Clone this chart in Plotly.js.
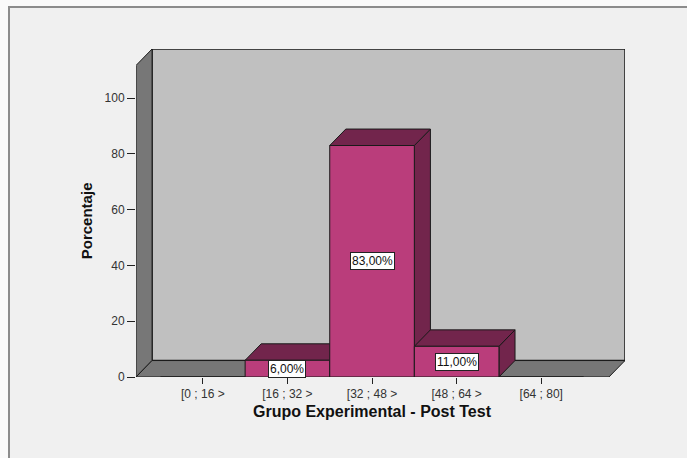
<!DOCTYPE html>
<html><head><meta charset="utf-8">
<script src="https://cdn.plot.ly/plotly-3.0.1.min.js"></script>
<style>
html,body{margin:0;padding:0;background:#fafafa;overflow:hidden;}
#frame{position:absolute;left:8px;top:6px;width:679px;height:452px;background:#f0f0f0;border-left:2px solid #8c8c8c;border-top:2px solid #8c8c8c;box-sizing:border-box;}
#chart{position:absolute;left:0;top:0;width:687px;height:458px;}
</style></head><body>
<div id="frame"></div><div id="chart"></div>
<script>
// ---- data ----
const categories = ['[0 ; 16 >', '[16 ; 32 >', '[32 ; 48 >', '[48 ; 64 >', '[64 ; 80]'];
const percentages = [0, 6, 83, 11, 0];
const yTickValues = [0, 20, 40, 60, 80, 100];
const xTitle = 'Grupo Experimental - Post Test';
const yTitle = 'Porcentaje';

// ---- 3D box geometry (in axis units) ----
const XL = -0.79, XR = 4.80;      // front plane x extent
const YT = 111.7;                 // front plane top
const DX = 0.19, DY = 5.9;        // depth offset
const FONT = 'Arial, "Liberation Sans", sans-serif';
const idx = categories.map((c, i) => i);

const shapes = [];
const edge = {color: '#1a1a1a', width: 1};
// back wall
shapes.push({type: 'rect', layer: 'below', xref: 'x', yref: 'y',
  x0: XL + DX, x1: XR + DX, y0: DY, y1: YT + DY,
  fillcolor: '#c0c0c0', line: {color: '#1a1a1a', width: 1.5}});
// left side wall
shapes.push({type: 'path', layer: 'below', xref: 'x', yref: 'y',
  path: `M${XL},0 L${XL},${YT} L${XL + DX},${YT + DY} L${XL + DX},${DY} Z`,
  fillcolor: '#777777', line: edge});
// floor
shapes.push({type: 'path', layer: 'below', xref: 'x', yref: 'y',
  path: `M${XL},0 L${XR},0 L${XR + DX},${DY} L${XL + DX},${DY} Z`,
  fillcolor: '#777777', line: edge});
// bar side & top faces
const dark = '#72254c';
percentages.forEach((v, i) => {
  if (v <= 0) return;
  const a = i - 0.5, b = i + 0.5;
  shapes.push({type: 'path', layer: 'below', xref: 'x', yref: 'y',
    path: `M${b},0 L${b},${v} L${b + DX},${v + DY} L${b + DX},${DY} Z`,
    fillcolor: dark, line: edge});
  shapes.push({type: 'path', layer: 'below', xref: 'x', yref: 'y',
    path: `M${a},${v} L${b},${v} L${b + DX},${v + DY} L${a + DX},${v + DY} Z`,
    fillcolor: dark, line: edge});
});

const annotations = [];
percentages.forEach((v, i) => {
  if (v <= 0) return;
  annotations.push({x: i, y: v / 2, xref: 'x', yref: 'y', showarrow: false,
    text: v.toFixed(2).replace('.', ',') + '%',
    font: {family: FONT, size: 12, color: '#111'},
    bgcolor: '#ffffff', bordercolor: '#222', borderwidth: 1, borderpad: 1});
});
// axis titles (centered on the front plane)
annotations.push({x: (XL + XR) / 2, y: 0, xref: 'x', yref: 'paper', yshift: -34,
  yanchor: 'middle', showarrow: false, text: xTitle,
  font: {family: FONT, size: 16, color: '#111', weight: 'bold'}});
annotations.push({x: 0, y: YT / 2, xref: 'paper', yref: 'y', xshift: -50,
  xanchor: 'center', showarrow: false, text: yTitle, textangle: -90,
  font: {family: FONT, size: 15, color: '#111', weight: 'bold'}});

const trace = {type: 'bar', x: idx, y: percentages, width: 1,
  marker: {color: '#ba3d7b', line: {color: '#1a1a1a', width: 1}},
  hoverinfo: 'skip', showlegend: false};

const layout = {
  width: 687, height: 458,
  paper_bgcolor: 'rgba(0,0,0,0)', plot_bgcolor: 'rgba(0,0,0,0)',
  margin: {l: 136, r: 62, t: 48.5, b: 81.3, pad: 0},
  bargap: 0,
  xaxis: {range: [XL, XR + DX], tickvals: idx, ticktext: categories,
    showgrid: false, zeroline: false, showline: false,
    ticks: 'outside', ticklen: 6, tickcolor: '#222', tickwidth: 1,
    tickfont: {family: FONT, size: 12, color: '#333'}, fixedrange: true},
  yaxis: {range: [0, YT + DY], tickvals: yTickValues,
    showgrid: false, zeroline: false, showline: false,
    ticks: 'outside', ticklen: 8, tickcolor: '#222', tickwidth: 1,
    tickfont: {family: FONT, size: 12, color: '#333'}, fixedrange: true},
  shapes: shapes, annotations: annotations, showlegend: false
};
Plotly.newPlot('chart', [trace], layout, {staticPlot: true, displayModeBar: false});
</script>
</body></html>
